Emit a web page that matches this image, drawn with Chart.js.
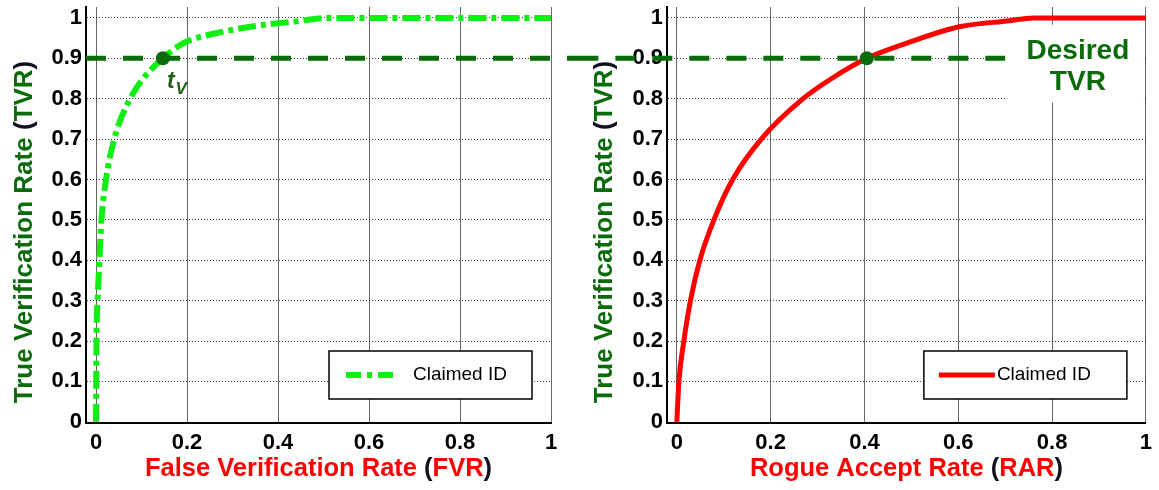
<!DOCTYPE html>
<html>
<head>
<meta charset="utf-8">
<script src="https://cdn.jsdelivr.net/npm/chart.js@4.4.0/dist/chart.umd.min.js"></script>
<style>
  body { margin: 0; background: #fff; }
  .row { display: flex; width: 1159px; height: 490px; }
  canvas { display: block; }
</style>
</head>
<body>
<div class="row">
  <canvas id="fvrChart" width="580" height="490"></canvas>
  <canvas id="rarChart" width="579" height="490"></canvas>
</div>
<script>
// left panel: TVR against FVR
const fvrX = [0, 0.0005, 0.001, 0.0035, 0.0075, 0.012, 0.022, 0.04, 0.075, 0.104, 0.147, 0.185, 0.207, 0.28, 0.34, 0.40, 0.43, 0.51, 0.6, 0.8, 1.0];
const fvrY = [0, 0.1, 0.2, 0.3, 0.4, 0.5, 0.6, 0.7, 0.8, 0.85, 0.9, 0.933, 0.945, 0.966, 0.978, 0.987, 0.99, 1.0, 1.0, 1.0, 1.0];

// right panel: TVR against RAR
const rarX = [0, 0.0044, 0.015, 0.029, 0.049, 0.079, 0.119, 0.18, 0.269, 0.33, 0.405, 0.496, 0.602, 0.709, 0.76, 0.85, 1.0];
const rarY = [0, 0.1, 0.2, 0.3, 0.4, 0.5, 0.6, 0.7, 0.8, 0.85, 0.9, 0.94, 0.978, 0.993, 1.0, 1.0, 1.0];

// desired TVR line and where each curve meets it
const desiredTvr = 0.9;
const tvrLineLeftX = [-0.022, 1.07];
const tvrLineRightX = [-0.21, 0.7];
const fvrAtTarget = 0.147;
const rarAtTarget = 0.405;

const xTicks = [0, 0.2, 0.4, 0.6, 0.8, 1];
const xTickLabels = ["0", "0.2", "0.4", "0.6", "0.8", "1"];
const yTicks = [0, 0.1, 0.2, 0.3, 0.4, 0.5, 0.6, 0.7, 0.8, 0.9, 1];
const yTickLabels = ["0", "0.1", "0.2", "0.3", "0.4", "0.5", "0.6", "0.7", "0.8", "0.9", "1"];

const FONT = '"Liberation Sans", Arial, sans-serif';
const DARK_GREEN = "#0b6b0b";
const LIME = "#11ee11";
const RED = "#ff0000";
const PAREN = "#111122";

const pts = (xs, ys) => xs.map((x, i) => ({ x: x, y: ys[i] }));

function drawRich(ctx, parts, font) {
  ctx.font = font;
  ctx.textBaseline = "middle";
  ctx.textAlign = "left";
  let w = 0;
  parts.forEach(p => { w += ctx.measureText(p[0]).width; });
  let x = -w / 2;
  parts.forEach(p => {
    ctx.fillStyle = p[1];
    ctx.fillText(p[0], x, 0);
    x += ctx.measureText(p[0]).width;
  });
}

function titlesPlugin(xParts, yParts) {
  return {
    id: "titles",
    afterDraw(chart) {
      const ctx = chart.ctx, xs = chart.scales.x, ys = chart.scales.y;
      ctx.save();
      ctx.translate((xs.left + xs.right) / 2, xs.bottom - 21);
      drawRich(ctx, xParts, "bold 25.5px " + FONT);
      ctx.restore();
      ctx.save();
      ctx.translate(ys.left + 25, 232);
      ctx.rotate(-Math.PI / 2);
      drawRich(ctx, yParts, "bold 26px " + FONT);
      ctx.restore();
    }
  };
}

function legendPlugin(leg) {
  return {
    id: "boxLegend",
    afterDatasetsDraw(chart) {
      const ctx = chart.ctx, a = chart.chartArea;
      const w = 203, h = 48;
      const left = a.right - 19 - w, top = a.bottom - 24 - h;
      ctx.save();
      ctx.fillStyle = "#fff";
      ctx.fillRect(left, top, w, h);
      ctx.strokeStyle = "#000";
      ctx.lineWidth = 1.5;
      ctx.strokeRect(left, top, w, h);
      ctx.beginPath();
      ctx.strokeStyle = leg.color;
      ctx.lineWidth = leg.width;
      ctx.setLineDash(leg.dash);
      ctx.moveTo(left + leg.x1, top + h / 2);
      ctx.lineTo(left + leg.x2, top + h / 2);
      ctx.stroke();
      ctx.setLineDash([]);
      ctx.fillStyle = "#000";
      ctx.font = "19px " + FONT;
      ctx.textBaseline = "middle";
      ctx.fillText(leg.text, left + leg.textX, top + h / 2);
      ctx.restore();
    }
  };
}

const tvLabel = {
  id: "tvLabel",
  afterDatasetsDraw(chart) {
    const ctx = chart.ctx;
    const px = chart.scales.x.getPixelForValue(fvrAtTarget);
    const py = chart.scales.y.getPixelForValue(desiredTvr);
    ctx.save();
    ctx.fillStyle = "#245e12";
    ctx.font = "italic bold 23px " + FONT;
    ctx.textBaseline = "alphabetic";
    ctx.fillText("t", px + 4, py + 30);
    const tw = ctx.measureText("t").width;
    ctx.font = "italic bold 17px " + FONT;
    ctx.fillText("V", px + 5 + tw, py + 36);
    ctx.restore();
  }
};

const desiredLabel = {
  id: "desiredLabel",
  beforeDatasetsDraw(chart) {
    const ctx = chart.ctx, xs = chart.scales.x, ys = chart.scales.y, a = chart.chartArea;
    const left = xs.getPixelForValue(0.7);
    const top = ys.getPixelForValue(0.983), bottom = ys.getPixelForValue(0.79);
    ctx.save();
    ctx.fillStyle = "#fff";
    ctx.fillRect(left, top, a.right - 3 - left, bottom - top);
    ctx.fillStyle = DARK_GREEN;
    ctx.font = "bold 28px " + FONT;
    ctx.textAlign = "center";
    ctx.textBaseline = "middle";
    const cx = xs.getPixelForValue(0.855);
    ctx.fillText("Desired", cx, ys.getPixelForValue(0.918));
    ctx.fillText("TVR", cx, ys.getPixelForValue(0.84));
    ctx.restore();
  }
};

function makeScales(xMin, yWidth) {
  return {
    x: {
      type: "linear",
      min: xMin,
      max: 1,
      afterBuildTicks: s => { s.ticks = xTicks.map(v => ({ value: v })); },
      afterFit: s => { s.height = 67; },
      grid: { color: "rgba(0,0,0,0.6)", lineWidth: 1, drawTicks: false },
      border: { color: "#000", width: 2 },
      ticks: {
        padding: 7, color: "#000", maxRotation: 0, autoSkip: false,
        font: { family: FONT, size: 22, weight: "bold" },
        callback: (v, i) => xTickLabels[i]
      }
    },
    y: {
      type: "linear",
      min: -0.003,
      max: 1.027,
      afterBuildTicks: s => { s.ticks = yTicks.map(v => ({ value: v })); },
      afterFit: s => { s.width = yWidth; s.paddingTop = 0; s.paddingBottom = 0; },
      grid: {
        color: c => (c.tick && c.tick.value === 0 ? "rgba(0,0,0,0)" : "rgba(0,0,0,0.75)"),
        lineWidth: 1, drawTicks: false
      },
      border: { color: "#000", width: 2, dash: [1, 2] },
      ticks: {
        padding: 4, color: "#000", autoSkip: false,
        font: { family: FONT, size: 22, weight: "bold" },
        callback: (v, i) => yTickLabels[i]
      }
    }
  };
}

const baseOptions = {
  responsive: false,
  animation: false,
  plugins: { legend: { display: false }, tooltip: { enabled: false } }
};

new Chart("fvrChart", {
  type: "scatter",
  data: {
    datasets: [
      {
        label: "t_V",
        data: [{ x: fvrAtTarget, y: desiredTvr }],
        pointRadius: 7, pointBackgroundColor: DARK_GREEN, pointBorderWidth: 0,
        order: 0
      },
      {
        label: "Desired TVR",
        data: pts(tvrLineLeftX, [desiredTvr, desiredTvr]),
        showLine: true, pointRadius: 0, borderColor: DARK_GREEN, borderWidth: 5,
        borderDash: [20, 17], clip: false, order: 1
      },
      {
        label: "Claimed ID",
        data: pts(fvrX, fvrY),
        showLine: true, pointRadius: 0, borderColor: LIME, borderWidth: 6,
        borderDash: [18, 5, 5, 5], cubicInterpolationMode: "monotone", order: 2
      }
    ]
  },
  options: Object.assign({}, baseOptions, {
    layout: { padding: { top: 7, right: 29, left: 0, bottom: 0 } },
    scales: makeScales(-0.022, 86)
  }),
  plugins: [
    titlesPlugin(
      [["False Verification Rate ", RED], ["(", PAREN], ["FVR", RED], [")", PAREN]],
      [["True Verification Rate ", DARK_GREEN], ["(", PAREN], ["TVR", DARK_GREEN], [")", PAREN]]
    ),
    legendPlugin({ color: LIME, width: 6, dash: [15, 6, 5, 6], x1: 17, x2: 65, textX: 84, text: "Claimed ID" }),
    tvLabel
  ]
});

new Chart("rarChart", {
  type: "scatter",
  data: {
    datasets: [
      {
        label: "target",
        data: [{ x: rarAtTarget, y: desiredTvr }],
        pointRadius: 7, pointBackgroundColor: DARK_GREEN, pointBorderWidth: 0,
        order: 0
      },
      {
        label: "Desired TVR",
        data: pts(tvrLineRightX, [desiredTvr, desiredTvr]),
        showLine: true, pointRadius: 0, borderColor: DARK_GREEN, borderWidth: 5,
        borderDash: [20, 17], clip: false, order: 1
      },
      {
        label: "Claimed ID",
        data: pts(rarX, rarY),
        showLine: true, pointRadius: 0, borderColor: RED, borderWidth: 5,
        cubicInterpolationMode: "monotone", order: 2
      }
    ]
  },
  options: Object.assign({}, baseOptions, {
    layout: { padding: { top: 7, right: 11, left: 0, bottom: 0 } },
    scales: makeScales(-0.021, 87)
  }),
  plugins: [
    titlesPlugin(
      [["Rogue Accept Rate ", RED], ["(", PAREN], ["RAR", RED], [")", PAREN]],
      [["True Verification Rate ", DARK_GREEN], ["(", PAREN], ["TVR", DARK_GREEN], [")", PAREN]]
    ),
    legendPlugin({ color: RED, width: 5, dash: [], x1: 15, x2: 71, textX: 73, text: "Claimed ID" }),
    desiredLabel
  ]
});
</script>
</body>
</html>
